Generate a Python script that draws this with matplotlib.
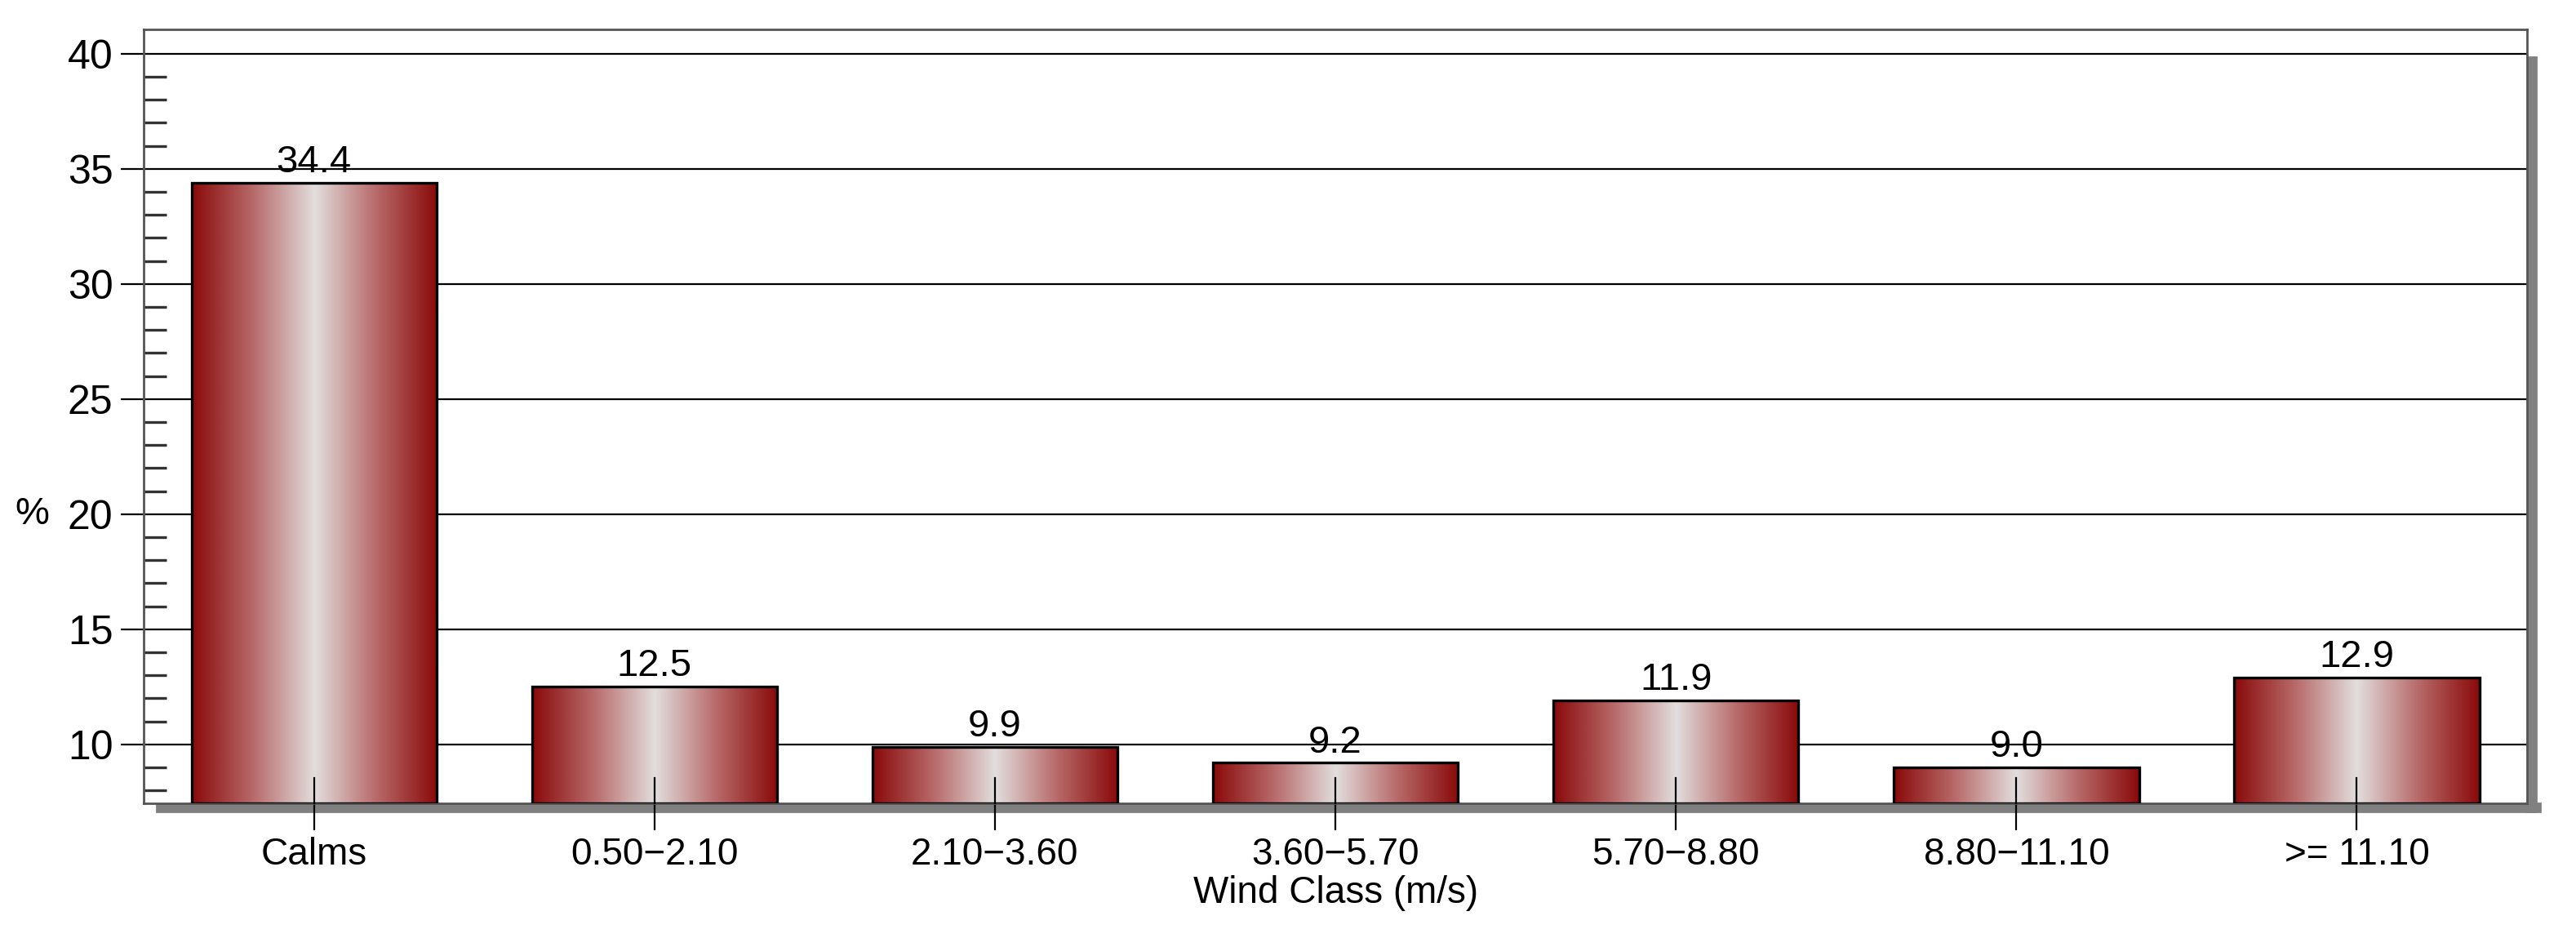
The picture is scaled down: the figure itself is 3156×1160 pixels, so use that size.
import matplotlib
matplotlib.use("Agg")
import matplotlib.pyplot as plt
import numpy as np
from matplotlib.colors import LinearSegmentedColormap
from matplotlib.patches import Rectangle

categories = ["Calms", "0.50\u22122.10", "2.10\u22123.60", "3.60\u22125.70", "5.70\u22128.80", "8.80\u221211.10", ">= 11.10"]
values = [34.4, 12.5, 9.9, 9.2, 11.9, 9.0, 12.9]
yticks = [10, 15, 20, 25, 30, 35, 40]

plt.rcParams['font.family'] = ['Liberation Sans', 'DejaVu Sans']
fig = plt.figure(figsize=(15.78, 5.8), dpi=200)
L, B, R, T = 0.0558, 0.152, 0.981, 0.969
ax = fig.add_axes([L, B, R - L, T - B])
# shadow
fig.patches.append(Rectangle((L + 0.005, B - 0.009), R - L, 0.009, transform=fig.transFigure, color='#808080', zorder=0))
fig.patches.append(Rectangle((R, B - 0.009), 0.0035, T - B - 0.02, transform=fig.transFigure, color='#808080', zorder=0))

ymin, ymax = 7.45, 41.06
cmap = LinearSegmentedColormap.from_list('g', ['#8a0a0a', '#b86a6a', '#e2dedd', '#b86a6a', '#8a0a0a'])
grad = np.linspace(0, 1, 256).reshape(1, -1)
w = 0.72
x = np.arange(len(categories))
for yt in yticks:
    ax.axhline(yt, color='black', lw=0.8, zorder=1)
for xi, v in zip(x, values):
    ax.imshow(grad, cmap=cmap, aspect='auto', extent=(xi - w/2, xi + w/2, ymin, v), zorder=2, interpolation='bicubic')
    ax.add_patch(Rectangle((xi - w/2, ymin), w, v - ymin, fill=False, ec='black', lw=1.2, zorder=3))
    ax.text(xi, v + 0.1, f"{v:.1f}", ha='center', va='bottom', fontsize=17, zorder=4)
    ax.plot([xi, xi], [ymin, ymin + 1.1], color='black', lw=0.8, zorder=4, clip_on=False)
ax.set_xlim(-0.5, len(categories) - 0.5)
ax.set_ylim(ymin, ymax)
ax.set_xticks(x)
ax.set_xticklabels(categories, fontsize=16.5)
ax.tick_params(axis='x', length=12, width=0.8, direction='out', pad=3)
ax.set_yticks(yticks)
ax.set_yticklabels([str(t) for t in yticks], fontsize=18)
ax.tick_params(axis='y', length=10, width=0.8, direction='out')
ax.set_yticks(np.arange(8, 41, 1), minor=True)
ax.tick_params(axis='y', which='minor', length=10, width=1.2, direction='in', color='#333333')
ax.set_xlabel("Wind Class (m/s)", fontsize=16.5, labelpad=1)
ax.set_ylabel("%", fontsize=17, rotation=0, labelpad=14, va='center')
ax.yaxis.set_label_coords(-0.047, (20 - ymin) / (ymax - ymin))
for s in ax.spines.values():
    s.set_color('#555555'); s.set_linewidth(1)
ax.set_zorder(1)
fig.savefig("out.png", dpi=200)
